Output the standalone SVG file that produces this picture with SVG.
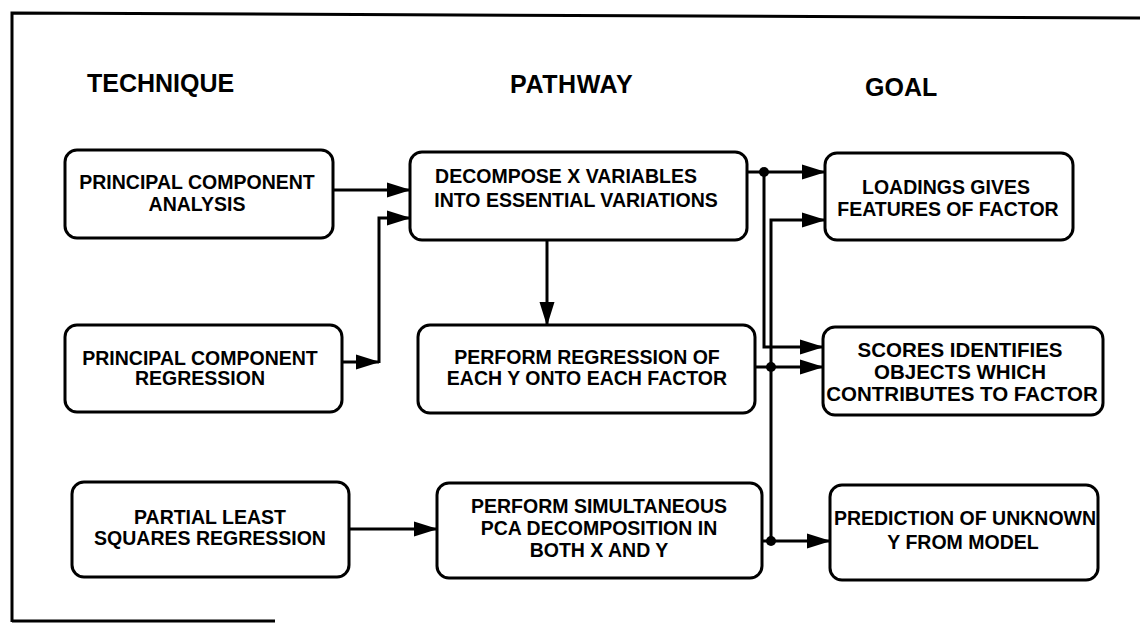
<svg xmlns="http://www.w3.org/2000/svg" width="1140" height="624" viewBox="0 0 1140 624">
<style>
.box{fill:#fff;stroke:#000;stroke-width:3}
.t{font-family:"Liberation Sans",Arial,sans-serif;font-weight:bold;font-size:19.5px;text-anchor:middle;fill:#000}
.h{font-family:"Liberation Sans",Arial,sans-serif;font-weight:bold;font-size:25px;fill:#000}
.w{fill:none;stroke:#000;stroke-width:3}
.dot{fill:#000}
</style>
<defs>
<marker id="ah" markerUnits="userSpaceOnUse" markerWidth="24" markerHeight="16" refX="23" refY="8" orient="auto" viewBox="0 0 24 16">
<path d="M0,0.5 L24,8 L0,15.5 z" fill="#000"/>
</marker>
</defs>
<rect width="1140" height="624" fill="#fff"/>
<g id="frame">
<path class="w" d="M12,622 V13 L1140,18"/>
<path class="w" d="M12,621 H275"/>
</g>
<g id="headers">
<text class="h" x="87" y="92">TECHNIQUE</text>
<text class="h" x="510" y="93" letter-spacing="0.6">PATHWAY</text>
<text class="h" x="865" y="96">GOAL</text>
</g>
<g id="connectors">
<path class="w" d="M333,190 H410" marker-end="url(#ah)"/>
<path class="w" d="M342,362 H379" marker-end="url(#ah)"/>
<path class="w" d="M379,363 V218 H410" marker-end="url(#ah)"/>
<path class="w" d="M547,240 V325" marker-end="url(#ah)"/>
<path class="w" d="M349,529 H437" marker-end="url(#ah)"/>
<path class="w" d="M747,172 H825" marker-end="url(#ah)"/>
<path class="w" d="M764,172 V347 H823" marker-end="url(#ah)"/>
<path class="w" d="M755,367 H823" marker-end="url(#ah)"/>
<path class="w" d="M762,541 H830" marker-end="url(#ah)"/>
<path class="w" d="M771,541 V220 H825" marker-end="url(#ah)"/>
<circle class="dot" cx="764" cy="172" r="5"/>
<circle class="dot" cx="771" cy="367" r="5"/>
<circle class="dot" cx="771" cy="541" r="5"/>
</g>
<g id="pca">
<rect class="box" x="65" y="150" width="268" height="88" rx="12"/>
<text class="t" x="197" y="189">PRINCIPAL COMPONENT</text>
<text class="t" x="197" y="211">ANALYSIS</text>
</g>
<g id="pcr">
<rect class="box" x="65" y="325" width="277" height="87" rx="12"/>
<text class="t" x="200" y="365">PRINCIPAL COMPONENT</text>
<text class="t" x="200" y="385">REGRESSION</text>
</g>
<g id="pls">
<rect class="box" x="72" y="482" width="277" height="95" rx="12"/>
<text class="t" x="210" y="524">PARTIAL LEAST</text>
<text class="t" x="210" y="545">SQUARES REGRESSION</text>
</g>
<g id="decompose">
<rect class="box" x="410" y="152" width="337" height="88" rx="12"/>
<text class="t" x="566" y="183">DECOMPOSE X VARIABLES</text>
<text class="t" x="576" y="207">INTO ESSENTIAL VARIATIONS</text>
</g>
<g id="regression">
<rect class="box" x="418" y="325" width="337" height="88" rx="12"/>
<text class="t" x="587" y="364">PERFORM REGRESSION OF</text>
<text class="t" x="587" y="385">EACH Y ONTO EACH FACTOR</text>
</g>
<g id="simultaneous">
<rect class="box" x="437" y="483" width="325" height="95" rx="12"/>
<text class="t" x="599" y="513">PERFORM SIMULTANEOUS</text>
<text class="t" x="599" y="535">PCA DECOMPOSITION IN</text>
<text class="t" x="599" y="557">BOTH X AND Y</text>
</g>
<g id="loadings">
<rect class="box" x="825" y="153" width="248" height="87" rx="12"/>
<text class="t" x="946" y="194">LOADINGS GIVES</text>
<text class="t" x="948" y="216">FEATURES OF FACTOR</text>
</g>
<g id="scores">
<rect class="box" x="823" y="327" width="280" height="88" rx="12"/>
<text class="t" x="960" y="357" style="font-size:20.5px">SCORES IDENTIFIES</text>
<text class="t" x="960" y="379" style="font-size:20.5px">OBJECTS WHICH</text>
<text class="t" x="962" y="401" style="font-size:20.5px">CONTRIBUTES TO FACTOR</text>
</g>
<g id="prediction">
<rect class="box" x="830" y="485" width="268" height="95" rx="12"/>
<text class="t" x="965" y="525">PREDICTION OF UNKNOWN</text>
<text class="t" x="963" y="549">Y FROM MODEL</text>
</g>
</svg>
